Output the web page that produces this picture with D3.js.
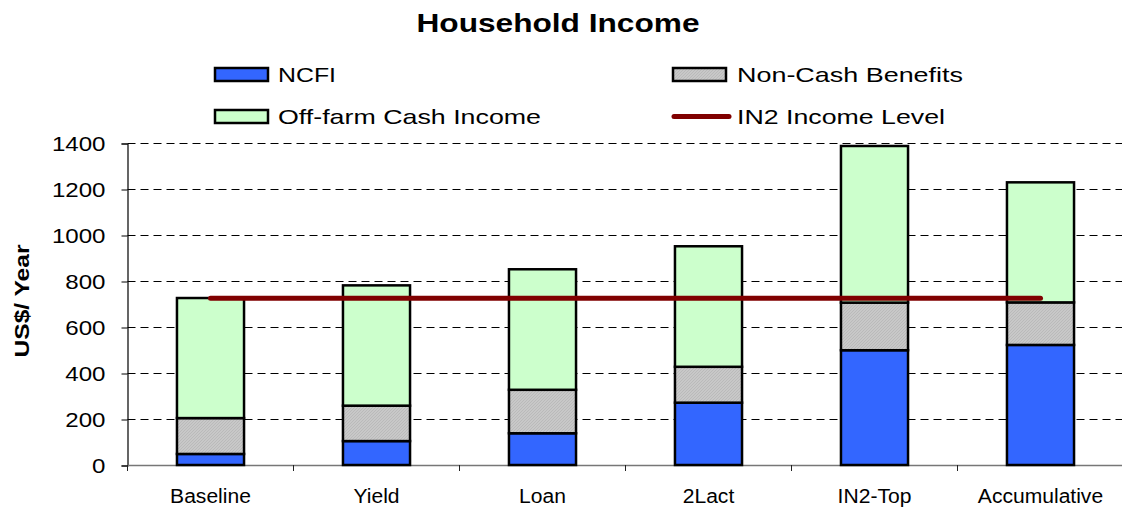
<!DOCTYPE html>
<html>
<head>
<meta charset="utf-8">
<script src="https://cdn.jsdelivr.net/npm/d3@7"></script>
<style>
  html, body { margin: 0; padding: 0; background: #fff; }
  svg { display: block; font-family: "Liberation Sans", Arial, sans-serif; }
</style>
</head>
<body>
<svg id="chart" width="1122" height="511"></svg>
<script>
// Scenarios on the x axis
const categories = ["Baseline", "Yield", "Loan", "2Lact", "IN2-Top", "Accumulative"];
// Stacked income components (US$/year)
const ncfi = [48, 104, 138, 271, 499, 522];
const nonCash = [156, 154, 189, 156, 207, 185];
const offFarm = [522, 523, 524, 524, 681, 522];
// Reference income level line
const in2Level = 725;
const yTicks = [0, 200, 400, 600, 800, 1000, 1200, 1400];
const seriesNames = ["NCFI", "Non-Cash Benefits", "Off-farm Cash Income", "IN2 Income Level"];

const svg = d3.select("#chart");
const W = 1122;
const plotLeft = 127.5, plotRight = 1123.5, plotTop = 143, plotBottom = 465;

// Fine diagonal hatch for non-cash benefits
const defs = svg.append("defs");
const pat = defs.append("pattern")
  .attr("id", "hatch").attr("patternUnits", "userSpaceOnUse")
  .attr("width", 3).attr("height", 3);
pat.append("rect").attr("width", 3).attr("height", 3).attr("fill", "#c8c8c8");
pat.append("path").attr("d", "M0,3 L3,0 M-1,1 L1,-1 M2,4 L4,2")
  .attr("stroke", "#b4b4b4").attr("stroke-width", 0.7);

const colors = { ncfi: "#3366ff", nonCash: "url(#hatch)", offFarm: "#ccffcc" };

const x = d3.scaleBand().domain(categories).range([plotLeft, plotRight])
  .paddingInner(0.596).paddingOuter(0.298);
const y = d3.scaleLinear().domain([0, 1400]).range([plotBottom, plotTop]);

// Dashed gridlines
svg.append("g").selectAll("line")
  .data(yTicks.filter(d => d > 0))
  .join("line")
  .attr("x1", plotLeft).attr("x2", W)
  .attr("y1", d => y(d) + 0.5).attr("y2", d => y(d) + 0.5)
  .attr("stroke", "#000").attr("stroke-width", 1)
  .attr("stroke-dasharray", "8,5");

// Y axis
const yAxis = svg.append("g").attr("transform", `translate(${plotLeft},0.5)`)
  .call(d3.axisLeft(y).tickValues(yTicks).tickSize(6).tickPadding(16).tickFormat(d3.format("d")));
yAxis.select(".domain").attr("stroke", "#000").attr("stroke-width", 1.2);
yAxis.selectAll(".tick line").attr("stroke", "#000");
yAxis.selectAll("text").attr("font-size", 21).attr("fill", "#000")
  .attr("font-family", "'Liberation Sans', Arial, sans-serif")
  .attr("textLength", d => String(d).length * 13.4)
  .attr("lengthAdjust", "spacingAndGlyphs");

// X axis line and slot ticks
const slot = x.step();
const xg = svg.append("g");
xg.append("line").attr("x1", plotLeft).attr("x2", W).attr("y1", plotBottom + 0.5).attr("y2", plotBottom + 0.5)
  .attr("stroke", "#777").attr("stroke-width", 1.5);
xg.selectAll("line.tk").data(d3.range(categories.length + 1)).join("line")
  .attr("class", "tk")
  .attr("x1", i => plotLeft + i * slot).attr("x2", i => plotLeft + i * slot)
  .attr("y1", plotBottom).attr("y2", plotBottom + 6)
  .attr("stroke", "#222").attr("stroke-width", 1);
xg.selectAll("text").data(categories).join("text")
  .attr("x", d => x(d) + x.bandwidth() / 2)
  .attr("y", 503)
  .attr("text-anchor", "middle")
  .attr("font-size", 19.5)
  .attr("fill", "#000")
  .text(d => d)
  .each(function () {
    const w = this.getComputedTextLength();
    d3.select(this).attr("textLength", w * 1.08).attr("lengthAdjust", "spacingAndGlyphs");
  });

// Stacked bars
const rows = categories.map((c, i) => ({ cat: c, ncfi: ncfi[i], nonCash: nonCash[i], offFarm: offFarm[i] }));
const stack = d3.stack().keys(["ncfi", "nonCash", "offFarm"])(rows);
svg.append("g").selectAll("g").data(stack).join("g")
  .attr("fill", s => colors[s.key])
  .selectAll("rect").data(s => s).join("rect")
  .attr("x", d => x(d.data.cat))
  .attr("width", x.bandwidth())
  .attr("y", d => y(d[1]))
  .attr("height", d => y(d[0]) - y(d[1]))
  .attr("stroke", "#000").attr("stroke-width", 2.5);

// IN2 income level line
const c0 = categories[0], c1 = categories[categories.length - 1];
svg.append("line")
  .attr("x1", x(c0) + x.bandwidth() / 2).attr("x2", x(c1) + x.bandwidth() / 2)
  .attr("y1", y(in2Level)).attr("y2", y(in2Level))
  .attr("stroke", "#800000").attr("stroke-width", 5).attr("stroke-linecap", "round");

// Title
svg.append("text").attr("x", 558).attr("y", 32).attr("text-anchor", "middle")
  .attr("font-size", 25).attr("font-weight", "bold")
  .attr("textLength", 283).attr("lengthAdjust", "spacingAndGlyphs")
  .text("Household Income");

// Y axis title
svg.append("text")
  .attr("transform", "translate(29,301) rotate(-90)")
  .attr("text-anchor", "middle")
  .attr("font-size", 21).attr("font-weight", "bold")
  .attr("textLength", 113).attr("lengthAdjust", "spacingAndGlyphs")
  .text("US$/ Year");

// Legend
const legend = svg.append("g");
const legItems = [
  { name: seriesNames[0], fill: colors.ncfi, sx: 215, sy: 68, tx: 278, tw: 58 },
  { name: seriesNames[1], fill: colors.nonCash, sx: 673, sy: 68, tx: 737, tw: 226 },
  { name: seriesNames[2], fill: colors.offFarm, sx: 215, sy: 110, tx: 278, tw: 263 },
  { name: seriesNames[3], line: true, sx: 673, sy: 110, tx: 737, tw: 208 }
];
legItems.forEach(it => {
  if (it.line) {
    legend.append("line").attr("x1", it.sx + 1).attr("x2", it.sx + 56)
      .attr("y1", it.sy + 6.5).attr("y2", it.sy + 6.5)
      .attr("stroke", "#800000").attr("stroke-width", 5).attr("stroke-linecap", "round");
  } else {
    legend.append("rect").attr("x", it.sx).attr("y", it.sy)
      .attr("width", 53).attr("height", 13)
      .attr("fill", it.fill).attr("stroke", "#000").attr("stroke-width", 2.5);
  }
  legend.append("text").attr("x", it.tx).attr("y", it.sy + 14)
    .attr("font-size", 21)
    .attr("textLength", it.tw).attr("lengthAdjust", "spacingAndGlyphs")
    .text(it.name);
});
</script>
</body>
</html>
